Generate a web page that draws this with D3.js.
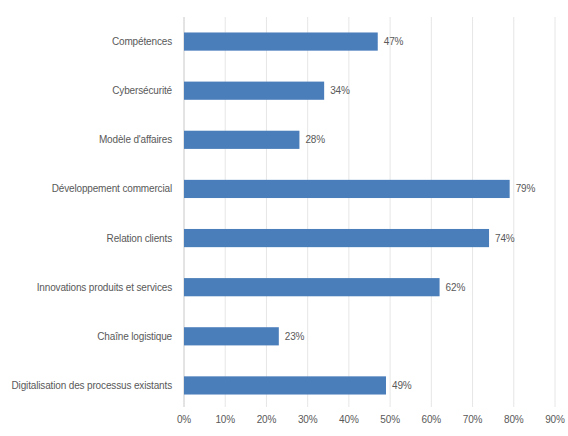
<!DOCTYPE html>
<html>
<head>
<meta charset="utf-8">
<script src="https://cdn.jsdelivr.net/npm/d3@7"></script>
<style>
  body { margin: 0; background: #fff; }
  text { font-family: "Liberation Sans", Arial, sans-serif; fill: #595959; letter-spacing: -0.15px; }
</style>
</head>
<body>
<svg id="chart" width="568" height="436"></svg>
<script>
// categories top to bottom, values in percent
const categories = [
    "Compétences",
    "Cybersécurité",
    "Modèle d'affaires",
    "Développement commercial",
    "Relation clients",
    "Innovations produits et services",
    "Chaîne logistique",
    "Digitalisation des processus existants"
];
const values = [47, 34, 28, 79, 74, 62, 23, 49];
const ticks = [0, 10, 20, 30, 40, 50, 60, 70, 80, 90];

const svg = d3.select("#chart");
const plotLeft = 184, plotRight = 555, plotTop = 17, plotBottom = 410;

const x = d3.scaleLinear().domain([0, 90]).range([plotLeft, plotRight]);
const y = d3.scaleBand().domain(categories).range([plotTop, plotBottom]).paddingInner(0.63).paddingOuter(0.315);

// gridlines
svg.append("g")
    .selectAll("line")
    .data(ticks)
    .enter().append("line")
    .attr("x1", d => x(d)).attr("x2", d => x(d))
    .attr("y1", plotTop).attr("y2", plotBottom - 3)
    .attr("stroke", d => d === 0 ? "#c8c8c8" : "#e6e6e6")
    .attr("stroke-width", 1);

// bars
svg.append("g")
    .selectAll("rect")
    .data(categories)
    .enter().append("rect")
    .attr("x", x(0))
    .attr("y", d => y(d))
    .attr("width", (d, i) => x(values[i]) - x(0))
    .attr("height", y.bandwidth())
    .attr("fill", "#4a7ebb");

// value labels
svg.append("g")
    .selectAll("text")
    .data(categories)
    .enter().append("text")
    .attr("x", (d, i) => x(values[i]) + 6)
    .attr("y", d => y(d) + y.bandwidth() / 2)
    .attr("dy", "0.35em")
    .attr("font-size", 10)
    .text((d, i) => values[i] + "%");

// category labels
svg.append("g")
    .selectAll("text")
    .data(categories)
    .enter().append("text")
    .attr("x", plotLeft - 12)
    .attr("y", d => y(d) + y.bandwidth() / 2)
    .attr("dy", "0.35em")
    .attr("text-anchor", "end")
    .attr("font-size", 10)
    .text(d => d);

// x axis tick labels
svg.append("g")
    .selectAll("text")
    .data(ticks)
    .enter().append("text")
    .attr("x", d => x(d))
    .attr("y", 423)
    .attr("text-anchor", "middle")
    .attr("font-size", 10)
    .text(d => d + "%");
</script>
</body>
</html>
